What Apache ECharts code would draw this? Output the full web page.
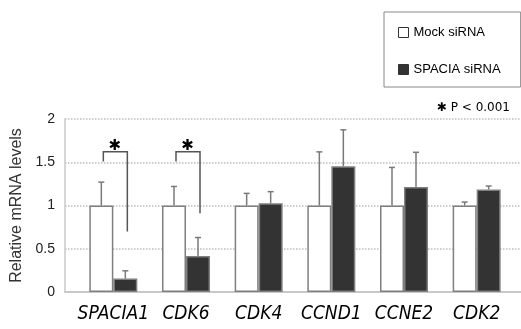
<!DOCTYPE html>
<html>
<head>
<meta charset="utf-8">
<script src="https://cdn.jsdelivr.net/npm/echarts@6/dist/echarts.min.js"></script>
<style>html,body{margin:0;padding:0;background:#fff}#c{width:521px;height:329px}</style>
</head>
<body>
<div id="c"></div>
<script>
const categories = ['SPACIA1', 'CDK6', 'CDK4', 'CCND1', 'CCNE2', 'CDK2'];
const seriesNames = ['Mock siRNA', 'SPACIA siRNA'];
const mockValues = [1, 1, 1, 1, 1, 1];
const mockErrors = [0.27, 0.22, 0.14, 0.62, 0.44, 0.04];
const spaciaValues = [0.155, 0.415, 1.025, 1.455, 1.215, 1.185];
const spaciaErrors = [0.09, 0.215, 0.135, 0.42, 0.40, 0.04];
const yTicks = [0, 0.5, 1, 1.5, 2];
// significance brackets: category index, top level, left leg bottom, right leg bottom
const bracketCats = [0, 1];
const bracketTop = [1.62, 1.62];
const bracketLeftBottom = [1.51, 1.51];
const bracketRightBottom = [0.70, 0.91];
const yTitle = 'Relative mRNA levels';
const pNote = '\u2731 P < 0.001';

const chart = echarts.init(document.getElementById('c'), null, {renderer: 'canvas'});

function errorRender(offset) {
  return function (params, api) {
    const base = api.coord([api.value(0), api.value(1)]);
    const top = api.coord([api.value(0), api.value(1) + api.value(2)]);
    const x = base[0] + offset;
    const st = {stroke: '#7a7a7a', lineWidth: 1.5};
    return {
      type: 'group',
      children: [
        {type: 'line', shape: {x1: x, y1: base[1], x2: x, y2: top[1]}, style: st},
        {type: 'line', shape: {x1: x - 3, y1: top[1], x2: x + 3, y2: top[1]}, style: st}
      ]
    };
  };
}

const bracketData = bracketCats.map((c, i) => [c, bracketTop[i], bracketLeftBottom[i], bracketRightBottom[i]]);

chart.setOption({
  animation: false,
  textStyle: {fontFamily: 'Liberation Sans, Arial, sans-serif'},
  grid: [
    {left: 65, right: 0, top: 119, bottom: 37},
    {left: 77, right: 8, top: 119, bottom: 37}
  ],
  xAxis: [
    {gridIndex: 0, type: 'category', data: categories, axisLine: {lineStyle: {color: '#c8c8c8', width: 2}}, axisTick: {show: false}, axisLabel: {show: false}},
    {gridIndex: 1, type: 'category', data: categories, axisLine: {show: false}, axisTick: {show: false},
      axisLabel: {interval: 0, margin: 13, fontSize: 19, fontStyle: 'italic', color: '#000',
        fontFamily: '"DejaVu Sans Condensed", "Liberation Sans", sans-serif'}}
  ],
  yAxis: [
    {gridIndex: 0, type: 'value', min: yTicks[0], max: yTicks[yTicks.length - 1], interval: yTicks[1] - yTicks[0],
      axisLine: {show: true, lineStyle: {color: '#c8c8c8', width: 1.5}}, axisTick: {show: false},
      splitLine: {lineStyle: {color: '#bdbdbd', type: 'dotted', width: 1.5}},
      axisLabel: {fontSize: 14, color: '#222', margin: 10},
      name: yTitle, nameLocation: 'middle', nameGap: 40, nameRotate: 90,
      nameTextStyle: {fontSize: 16, color: '#333'}},
    {gridIndex: 1, type: 'value', min: yTicks[0], max: yTicks[yTicks.length - 1], interval: yTicks[1] - yTicks[0], show: false}
  ],
  legend: {
    data: [
      {name: seriesNames[0], itemStyle: {color: '#fff', borderColor: '#333', borderWidth: 1}},
      {name: seriesNames[1], itemStyle: {color: '#333', borderColor: '#333', borderWidth: 1}}
    ],
    orient: 'vertical', left: 384, top: 12, icon: 'rect', itemWidth: 10, itemHeight: 10, itemGap: 24,
    padding: [14, 20, 11, 14], borderColor: '#888', borderWidth: 1,
    textStyle: {fontSize: 13, color: '#000'}
  },
  graphic: [
    {type: 'text', right: 11, top: 102, style: {text: pNote, fontSize: 12, fill: '#000', fontFamily: 'DejaVu Sans'}}
  ],
  series: [
    {name: seriesNames[0], type: 'bar', xAxisIndex: 1, yAxisIndex: 1, data: mockValues, barWidth: 24, barGap: '0%',
      itemStyle: {color: '#fff', borderColor: '#7f7f7f', borderWidth: 1.5}},
    {name: seriesNames[1], type: 'bar', xAxisIndex: 1, yAxisIndex: 1, data: spaciaValues, barWidth: 24, barGap: '0%',
      itemStyle: {color: '#333', borderColor: '#7f7f7f', borderWidth: 1.5}},
    {type: 'custom', xAxisIndex: 1, yAxisIndex: 1, z: 5, renderItem: errorRender(-12),
      data: mockValues.map((v, i) => [i, v, mockErrors[i]])},
    {type: 'custom', xAxisIndex: 1, yAxisIndex: 1, z: 5, renderItem: errorRender(12),
      data: spaciaValues.map((v, i) => [i, v, spaciaErrors[i]])},
    {type: 'custom', xAxisIndex: 1, yAxisIndex: 1, z: 6, data: bracketData,
      renderItem: function (params, api) {
        const top = api.coord([api.value(0), api.value(1)]);
        const lb = api.coord([api.value(0), api.value(2)]);
        const rb = api.coord([api.value(0), api.value(3)]);
        const c = top[0];
        return {
          type: 'group',
          children: [
            {type: 'polyline', shape: {points: [[c - 10, lb[1]], [c - 10, top[1]], [c + 14, top[1]], [c + 14, rb[1]]]},
              style: {stroke: '#555', lineWidth: 1.5, fill: null}},
            {type: 'text', style: {text: '\u2731', x: c + 1.5, y: top[1] - 6, align: 'center', verticalAlign: 'middle',
              fontSize: 15, fill: '#000', fontFamily: 'DejaVu Sans'}}
          ]
        };
      }}
  ]
});
</script>
</body>
</html>
